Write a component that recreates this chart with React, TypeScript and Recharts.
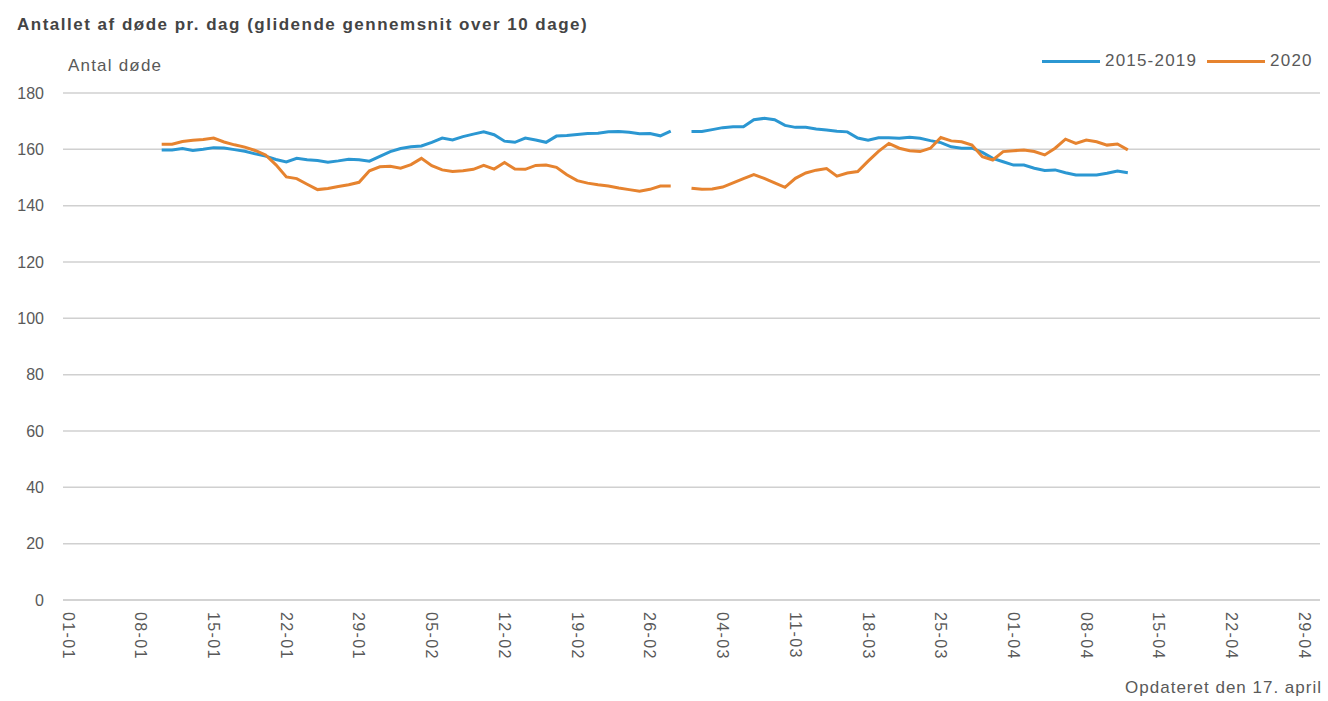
import React from 'react';
import { LineChart, Line, XAxis, YAxis, CartesianGrid, Legend } from 'recharts';

// Day index 0 = 01-01; first moving-average value is on 10-01 (day 9)
const firstDay = 9;

const deaths2015to2019: (number | null)[] = [
  159.8, 159.8, 160.3, 159.6, 160.0, 160.6, 160.5, 159.9, 159.3, 158.4,
  157.6, 156.4, 155.5, 156.8, 156.3, 156.0, 155.4, 155.9, 156.5, 156.3,
  155.8, 157.5, 159.2, 160.3, 160.9, 161.2, 162.5, 164.0, 163.3, 164.5,
  165.4, 166.2, 165.2, 162.9, 162.5, 164.0, 163.3, 162.5, 164.7, 164.9,
  165.3, 165.6, 165.7, 166.2, 166.3, 166.1, 165.5, 165.6, 164.8, 166.5,
  null, 166.3, 166.3, 167.0, 167.7, 168.0, 168.0, 170.5, 171.0, 170.5,
  168.5, 167.8, 167.8, 167.2, 166.9, 166.4, 166.2, 164.0, 163.2, 164.1,
  164.1, 163.9, 164.3, 163.9, 163.1, 162.4, 160.9, 160.4, 160.4, 158.9,
  156.8, 155.6, 154.4, 154.4, 153.3, 152.5, 152.7, 151.7, 150.9, 150.9,
  150.9, 151.5, 152.3, 151.7,
];

const deaths2020: (number | null)[] = [
  161.8, 161.8, 162.8, 163.2, 163.5, 164.0, 162.6, 161.6, 160.8, 159.6,
  158.0, 154.5, 150.2, 149.6, 147.6, 145.7, 146.1, 146.8, 147.4, 148.3,
  152.4, 153.8, 154.0, 153.3, 154.6, 156.8, 154.2, 152.7, 152.1, 152.4,
  152.9, 154.3, 153.0, 155.3, 153.0, 152.9, 154.3, 154.4, 153.6, 151.0,
  148.9, 148.0, 147.4, 147.0, 146.3, 145.7, 145.1, 145.8, 147.0, 147.0,
  null, 146.2, 145.8, 145.9, 146.6, 148.1, 149.6, 151.0, 149.7, 148.1,
  146.5, 149.7, 151.6, 152.6, 153.2, 150.5, 151.6, 152.1, 155.8, 159.3,
  162.1, 160.4, 159.5, 159.2, 160.4, 164.2, 163.0, 162.7, 161.5, 157.4,
  156.2, 159.2, 159.5, 159.8, 159.2, 158.0, 160.4, 163.6, 162.1, 163.3,
  162.7, 161.5, 161.9, 159.8,
];

const xTicks = [0, 7, 14, 21, 28, 35, 42, 49, 56, 63, 70, 77, 84, 91, 98, 105, 112, 119];
const xTickLabels = [
  '01-01', '08-01', '15-01', '22-01', '29-01', '05-02', '12-02', '19-02', '26-02',
  '04-03', '11-03', '18-03', '25-03', '01-04', '08-04', '15-04', '22-04', '29-04',
];
const yTicks = [0, 20, 40, 60, 80, 100, 120, 140, 160, 180];

const seriesNames = ['2015-2019', '2020'];
const seriesColors = ['#2b97d2', '#e6832f'];

const data = deaths2015to2019.map((v, i) => ({
  day: firstDay + i,
  avg: v,
  y2020: deaths2020[i],
}));

const FONT = '"Liberation Sans", Arial, sans-serif';
const TEXT = '#595959';

const XTick = (props: any) => {
  const { x, y, payload } = props;
  const idx = xTicks.indexOf(payload.value);
  const ty = y + 4;
  return (
    <text
      x={x}
      y={ty}
      dy="0.35em"
      transform={`rotate(90 ${x} ${ty})`}
      textAnchor="start"
      fill={TEXT}
      fontSize={16}
      letterSpacing={1.4}
      fontFamily={FONT}
    >
      {xTickLabels[idx]}
    </text>
  );
};

const LegendContent = () => (
  <div style={{ display: 'flex', alignItems: 'center', fontFamily: FONT, fontSize: 17, letterSpacing: 1.2, color: TEXT }}>
    {seriesNames.map((n, i) => (
      <div key={n} style={{ display: 'flex', alignItems: 'center', marginRight: i === 0 ? 10 : 0 }}>
        <div style={{ width: 58, height: 3, background: seriesColors[i], marginRight: 5 }} />
        <span>{n}</span>
      </div>
    ))}
  </div>
);

export default function App() {
  return (
    <div
      style={{
        position: 'absolute',
        left: 0,
        top: 0,
        width: 1328,
        height: 701,
        background: '#ffffff',
        fontFamily: FONT,
        overflow: 'hidden',
      }}
    >
      <div
        style={{
          position: 'absolute',
          left: 17,
          top: 15,
          fontSize: 17,
          letterSpacing: 1.5,
          fontWeight: 'bold',
          color: '#444444',
          whiteSpace: 'nowrap',
        }}
      >
        Antallet af døde pr. dag (glidende gennemsnit over 10 dage)
      </div>
      <div
        style={{
          position: 'absolute',
          left: 68,
          top: 56,
          fontSize: 17,
          letterSpacing: 1.2,
          color: TEXT,
          whiteSpace: 'nowrap',
        }}
      >
        Antal døde
      </div>
      <div
        style={{
          position: 'absolute',
          right: 6,
          top: 678,
          fontSize: 17,
          letterSpacing: 1,
          color: TEXT,
          whiteSpace: 'nowrap',
        }}
      >
        Opdateret den 17. april
      </div>
      <div style={{ position: 'absolute', left: 0, top: 0 }}>
        <LineChart
          width={1328}
          height={701}
          data={data}
          margin={{ top: 93, right: 8, bottom: 41, left: 23 }}
        >
          <CartesianGrid horizontal vertical={false} stroke="#d0d0d0" strokeWidth={1.5} />
          <XAxis
            dataKey="day"
            type="number"
            domain={[-0.5, 120.5]}
            ticks={xTicks}
            interval={0}
            height={60}
            axisLine={{ stroke: '#d0d0d0', strokeWidth: 1.5 }}
            tickLine={false}
            tick={<XTick />}
            allowDataOverflow
          />
          <YAxis
            domain={[0, 180]}
            ticks={yTicks}
            width={40}
            axisLine={false}
            tickLine={false}
            tickSize={0}
            tickMargin={19}
            tick={{ fill: TEXT, fontSize: 16, fontFamily: FONT }}
            interval={0}
          />
          <Legend
            verticalAlign="middle"
            layout="horizontal"
            content={<LegendContent />}
            wrapperStyle={{ position: 'absolute', top: 51, left: 1042, width: 290, height: 22 }}
          />
          <Line
            type="linear"
            dataKey="avg"
            name={seriesNames[0]}
            stroke={seriesColors[0]}
            strokeWidth={3}
            dot={false}
            isAnimationActive={false}
            connectNulls={false}
          />
          <Line
            type="linear"
            dataKey="y2020"
            name={seriesNames[1]}
            stroke={seriesColors[1]}
            strokeWidth={3}
            dot={false}
            isAnimationActive={false}
            connectNulls={false}
          />
        </LineChart>
      </div>
    </div>
  );
}
